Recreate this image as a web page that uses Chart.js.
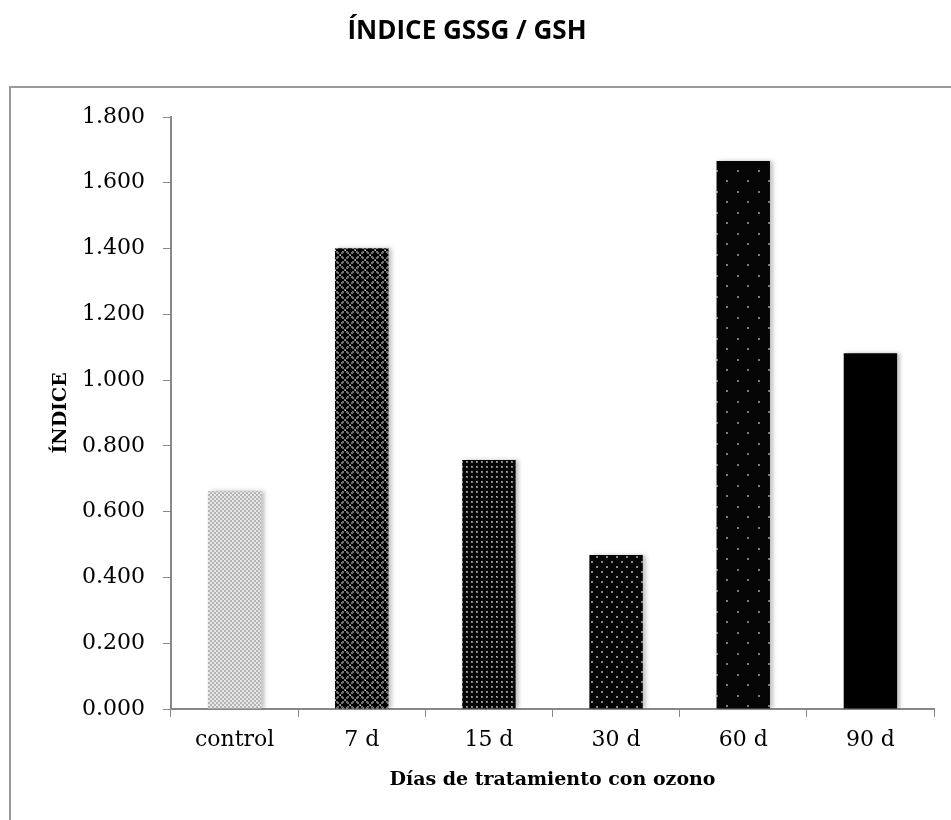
<!DOCTYPE html>
<html>
<head>
<meta charset="utf-8">
<script src="https://cdn.jsdelivr.net/npm/chart.js@4"></script>
<style>
  body { margin: 0; background: #fff; }
  #wrap { position: relative; width: 951px; height: 820px; overflow: hidden; }
  #frame { position: absolute; left: 9px; top: 86px; width: 1000px; height: 800px;
           border-left: 2px solid #999; border-top: 2px solid #999; pointer-events: none; }
</style>
</head>
<body>
<div id="wrap">
  <canvas id="chart" width="951" height="820"></canvas>
  <div id="frame"></div>
</div>
<script>
const categories = ['control', '7 d', '15 d', '30 d', '60 d', '90 d'];
const indexValues = [0.663, 1.401, 0.757, 0.468, 1.666, 1.082];
const chartTitle = 'ÍNDICE GSSG / GSH';
const yTitle = 'ÍNDICE';
const xTitle = 'Días de tratamiento con ozono';

// small tiles for the bar fills
function makePattern(w, h, draw) {
  const c = document.createElement('canvas');
  c.width = w; c.height = h;
  const g = c.getContext('2d');
  draw(g);
  return document.getElementById('chart').getContext('2d').createPattern(c, 'repeat');
}

const fills = [
  makePattern(4, 4, g => {
    g.fillStyle = '#b4b4b4'; g.fillRect(0, 0, 4, 4);
    g.fillStyle = '#e6e6e6'; g.fillRect(0, 0, 2, 2); g.fillRect(2, 2, 2, 2);
  }),
  makePattern(10, 10, g => {
    g.fillStyle = '#6e6e6e'; g.fillRect(0, 0, 10, 10);
    g.fillStyle = '#000';
    // plus shapes at corners and center
    g.fillRect(4, 1, 2, 8); g.fillRect(1, 4, 8, 2); g.fillRect(3, 3, 4, 4);
    g.fillRect(9, 0, 1, 4); g.fillRect(9, 6, 1, 4); g.fillRect(0, 0, 1, 4); g.fillRect(0, 6, 1, 4);
    g.fillRect(6, 0, 4, 1); g.fillRect(0, 0, 4, 1); g.fillRect(6, 9, 4, 1); g.fillRect(0, 9, 4, 1);
    g.fillRect(8, 8, 2, 2); g.fillRect(0, 0, 2, 2); g.fillRect(8, 0, 2, 2); g.fillRect(0, 8, 2, 2);
    g.fillStyle = '#c8c8c8';
    g.fillRect(5, 0, 1, 1); g.fillRect(0, 5, 1, 1);
  }),
  makePattern(5, 5, g => {
    g.fillStyle = '#050505'; g.fillRect(0, 0, 5, 5);
    g.fillStyle = '#7c7c7c'; g.fillRect(1, 1, 2, 2);
    g.fillStyle = '#a8a8a8'; g.fillRect(1, 1, 1, 1);
  }),
  makePattern(10, 10, g => {
    g.fillStyle = '#050505'; g.fillRect(0, 0, 10, 10);
    g.fillStyle = '#8a8a8a'; g.fillRect(1, 1, 2, 2); g.fillRect(6, 6, 2, 2);
  }),
  makePattern(21, 21, g => {
    g.fillStyle = '#050505'; g.fillRect(0, 0, 21, 21);
    g.fillStyle = '#7a7a7a'; g.fillRect(2, 2, 2, 2); g.fillRect(12, 12, 2, 2);
  }),
  '#000000'
];

const barShadow = {
  id: 'barShadow',
  beforeDatasetsDraw(chart) {
    const ctx = chart.ctx;
    ctx.save();
    ctx.shadowColor = 'rgba(0,0,0,0.25)';
    ctx.shadowBlur = 4;
    ctx.shadowOffsetX = 3;
  },
  afterDatasetsDraw(chart) {
    chart.ctx.restore();
  }
};

new Chart(document.getElementById('chart'), {
  type: 'bar',
  data: {
    labels: categories,
    datasets: [{
      data: indexValues,
      backgroundColor: fills,
      borderWidth: 0,
      barPercentage: 0.42,
      categoryPercentage: 1
    }]
  },
  plugins: [barShadow],
  options: {
    responsive: false,
    animation: false,
    layout: { padding: { top: 0, right: 17, bottom: 0, left: 0 } },
    plugins: {
      legend: { display: false },
      tooltip: { enabled: false },
      title: {
        display: true,
        text: chartTitle,
        color: '#000',
        font: { family: 'Open Sans', size: 26, weight: 'bold' },
        padding: { top: 16.4, bottom: 69.4 }
      }
    },
    scales: {
      x: {
        grid: { display: true, drawOnChartArea: false, color: '#888', tickLength: 8, offset: true },
        border: { color: '#888', width: 2 },
        ticks: { color: '#000', font: { family: 'DejaVu Serif', size: 22 }, padding: 10 },
        title: {
          display: true, text: xTitle, color: '#000',
          font: { family: 'DejaVu Serif', size: 19, weight: 'bold' },
          padding: { top: 0, bottom: 29 }
        },
        afterFit(s) { s.height = 111; }
      },
      y: {
        min: 0,
        max: 1.8,
        grid: { display: true, drawOnChartArea: false, color: '#888', tickLength: 8 },
        border: { color: '#888', width: 2 },
        ticks: {
          stepSize: 0.2,
          color: '#000',
          font: { family: 'DejaVu Serif', size: 22 },
          padding: 18,
          callback: v => v.toFixed(3)
        },
        title: {
          display: true, text: yTitle, color: '#000',
          font: { family: 'DejaVu Serif', size: 19, weight: 'bold' },
          padding: { top: 50, bottom: 0 }
        },
        afterFit(s) { s.width = 171; }
      }
    }
  }
});
</script>
</body>
</html>
